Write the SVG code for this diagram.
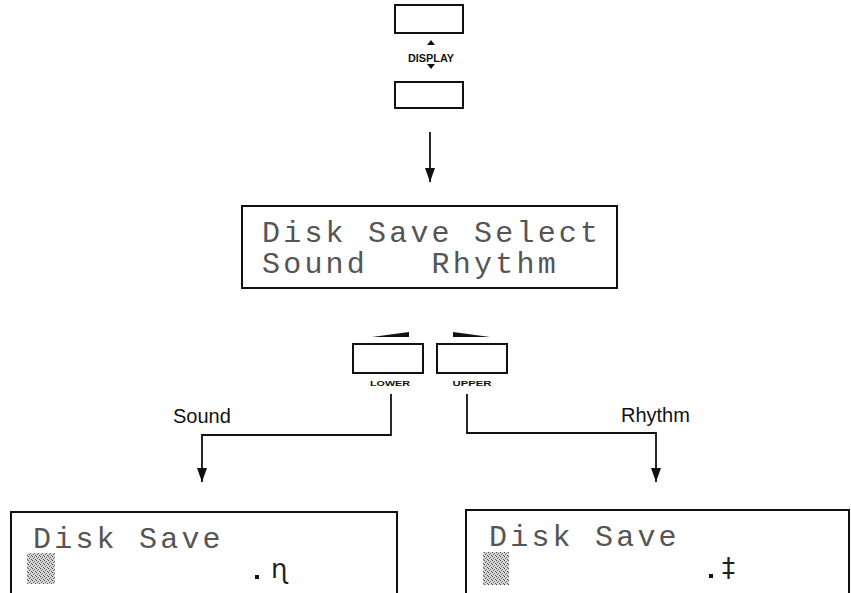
<svg xmlns="http://www.w3.org/2000/svg" width="851" height="593" viewBox="0 0 851 593">
<style>
.box{fill:none;stroke:#111;stroke-width:2}
.lcd{font-family:"Liberation Mono","DejaVu Sans Mono",monospace;font-size:30px;letter-spacing:3.2px;fill:#555;white-space:pre}
.lbl{font-family:"Liberation Sans",Arial,sans-serif;font-size:20px;fill:#111}
.small{font-family:"Liberation Sans",Arial,sans-serif;font-weight:bold;fill:#111}
.conn{fill:none;stroke:#111;stroke-width:1.8}
.icon{font-family:"DejaVu Sans",sans-serif;font-size:26px;fill:#222}
</style>
<defs>
<marker id="ah" markerUnits="userSpaceOnUse" markerWidth="16" markerHeight="12" refX="15" refY="6" orient="auto" viewBox="0 0 16 12">
<path d="M1,1 L15,6 L1,11 Z" fill="#111"/>
</marker>
<pattern id="dither" width="4" height="4" patternUnits="userSpaceOnUse">
<rect width="4" height="4" fill="#d6d6d6"/>
<rect x="0" y="0" width="1" height="1" fill="#444"/>
<rect x="2" y="1" width="1" height="1" fill="#777"/>
<rect x="1" y="2" width="1" height="1" fill="#666"/>
<rect x="3" y="3" width="1" height="1" fill="#555"/>
</pattern>
</defs>

<g id="display-buttons">
<rect class="box" x="395" y="5" width="68" height="28"/>
<polygon points="427,45 431,40 435,45" fill="#111"/>
<text class="small" x="431" y="62" font-size="10" text-anchor="middle" textLength="46" lengthAdjust="spacingAndGlyphs">DISPLAY</text>
<polygon points="427,64 435,64 431,69" fill="#111"/>
<rect class="box" x="395" y="82" width="68" height="26"/>
</g>

<g id="lcd-select">
<rect class="box" x="242" y="206" width="375" height="82"/>
<text class="lcd" x="262" y="242">Disk Save Select</text>
<text class="lcd" x="262" y="273">Sound   Rhythm</text>
</g>

<g id="lower-button">
<polygon points="372,337 409,332 409,337" fill="#111"/>
<rect class="box" x="353" y="344" width="70" height="29"/>
<text class="small" x="390" y="386" font-size="7" text-anchor="middle" textLength="40" lengthAdjust="spacingAndGlyphs">LOWER</text>
</g>

<g id="upper-button">
<polygon points="453,332 453,337 490,337" fill="#111"/>
<rect class="box" x="437" y="344" width="70" height="29"/>
<text class="small" x="472" y="386" font-size="7" text-anchor="middle" textLength="39" lengthAdjust="spacingAndGlyphs">UPPER</text>
</g>

<g id="label-sound">
<text class="lbl" x="173" y="423">Sound</text>
</g>
<g id="label-rhythm">
<text class="lbl" x="621" y="422">Rhythm</text>
</g>

<g id="lcd-sound">
<rect class="box" x="11" y="512" width="386" height="100"/>
<text class="lcd" x="33" y="548">Disk Save</text>
<rect x="27" y="553" width="28" height="31" fill="url(#dither)"/>
<rect x="255" y="575" width="4" height="4" fill="#111"/>
<text class="icon" x="271" y="578">ɳ</text>
</g>

<g id="lcd-rhythm">
<rect class="box" x="466" y="510" width="383" height="100"/>
<text class="lcd" x="489" y="546">Disk Save</text>
<rect x="483" y="552" width="26" height="33" fill="url(#dither)"/>
<rect x="709" y="574" width="4" height="4" fill="#111"/>
<text class="icon" x="722" y="577">‡</text>
</g>

<g id="connectors">
<path class="conn" d="M430,132 V182" marker-end="url(#ah)"/>
<path class="conn" d="M391,394 V435 H202 V482" marker-end="url(#ah)"/>
<path class="conn" d="M467,394 V433 H656 V482" marker-end="url(#ah)"/>
</g>
</svg>
